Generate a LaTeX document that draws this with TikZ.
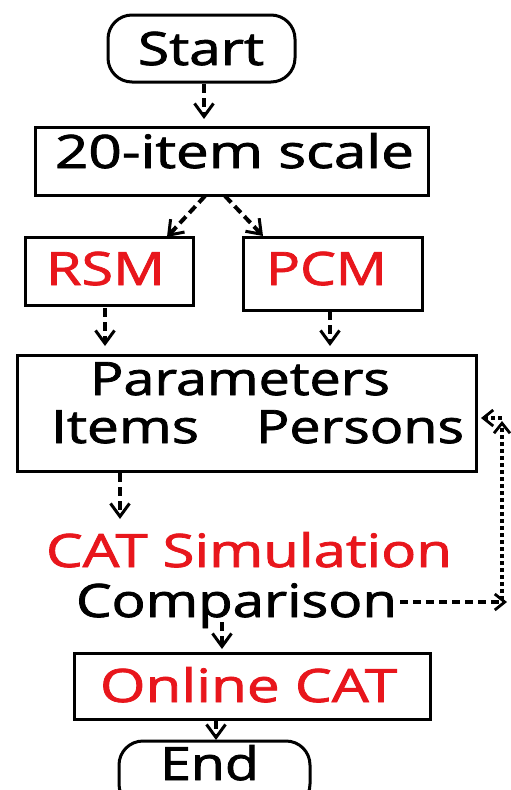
\documentclass[tikz,border=0pt]{standalone}
\usepackage{fontspec}
\setmainfont[FakeBold=1.6,BoldFont={Open Sans}]{Open Sans}
\usetikzlibrary{arrows.meta,calc}
\definecolor{cred}{RGB}{232,22,28}
\newcommand\fitw[2]{\resizebox{#1}{\height}{#2}}
\begin{document}
\begin{tikzpicture}[x=1pt,y=-1pt,
  box/.style={draw,line width=3pt,inner sep=0pt,outer sep=0pt},
  txt/.style={inner sep=0pt,outer sep=0pt,anchor=base west,font=\fontsize{46}{50}\selectfont},
  arr/.style={line width=4pt,dash pattern=on 9pt off 5pt,-{Straight Barb[length=13pt,width=19pt,line width=3pt]}},
  dotarr/.style={line width=4.5pt,dash pattern=on 4pt off 3pt,-{Straight Barb[length=10pt,width=16pt,line width=2.8pt]}},
  dasharr/.style={line width=4.5pt,dash pattern=on 8pt off 5pt,-{Straight Barb[length=10pt,width=16pt,line width=2.8pt]}}
]
\useasboundingbox (0,0) rectangle (511,790);
\fill[white] (0,0) rectangle (511,790);
\clip (0,0) rectangle (511,790);

% boxes
\node[box,rounded corners=24pt,minimum width=187pt,minimum height=67pt] (start) at (201.5,48.5) {};
\node[box,minimum width=393pt,minimum height=68pt] (scale) at (231.5,161) {};
\node[box,minimum width=168pt,minimum height=68pt] (rsm) at (109,271) {};
\node[box,minimum width=179pt,minimum height=73pt] (pcm) at (332.5,273.5) {};
\node[box,minimum width=459pt,minimum height=116pt] (par) at (246.5,413) {};
\node[box,minimum width=356pt,minimum height=66pt] (online) at (252,686) {};
\node[box,rounded corners=24pt,minimum width=191pt,minimum height=67pt] (endn) at (214.5,774.5) {};

% texts
\node[txt] (tstart) at (138,65) {\fitw{126pt}{Start}};
\node[txt] (tscale) at (55,168) {\fitw{359pt}{20-item scale}};
\node[txt,text=cred] (trsm) at (46,285) {\fitw{119pt}{RSM}};
\node[txt,text=cred] (tpcm) at (266,285) {\fitw{121pt}{PCM}};
\node[txt] (tpar) at (90,395) {\fitw{300pt}{Parameters}};
\node[txt] (titems) at (51,443) {\fitw{148pt}{Items}};
\node[txt] (tpersons) at (256,443) {\fitw{208pt}{Persons}};
\node[txt,text=cred] (catsim) at (46,567) {\fitw{406pt}{CAT Simulation}};
\node[txt] (comp) at (76,617) {\fitw{321pt}{Comparison}};
\node[txt,text=cred] (tonline) at (100,702) {\fitw{297pt}{Online CAT}};
\node[txt] (tend) at (160,780) {\fitw{99pt}{End}};

% connectors
\draw[arr] ([xshift=2.5pt,yshift=-2pt]start.south) -- ([xshift=-27.5pt,yshift=8pt]scale.north);
\draw[arr] ([xshift=-26.5pt,yshift=-1pt]scale.south) -- ([xshift=-26pt]rsm.north east);
\draw[arr] ([xshift=-6.5pt,yshift=-1pt]scale.south) -- ([xshift=20pt,yshift=1pt]pcm.north west);
\draw[arr] ([xshift=-4pt,yshift=-3pt]rsm.south) -- ([xshift=88pt,yshift=9pt]par.north west);
\draw[arr] ([xshift=-2.5pt,yshift=-1pt]pcm.south) -- ([xshift=83.5pt,yshift=9pt]par.north);
\draw[arr] ([xshift=103pt,yshift=-2pt]par.south west) -- ([xshift=74pt,yshift=48pt]catsim.base west);
\draw[arr] ([xshift=146pt,yshift=-5pt]comp.base west) -- ([xshift=148pt,yshift=4pt]online.north west);
\draw[arr] ([xshift=-36pt,yshift=-1pt]online.south) -- ([xshift=1.5pt,yshift=1pt]endn.north);

% feedback loop
\coordinate (loopR) at (507,602);
\coordinate (loopB) at (502,600);
\coordinate (loopT) at (502,421);
\coordinate (loopL) at (502,418);
\draw[dasharr] ([xshift=3pt,yshift=15pt]comp.base east) -- (loopR);
\draw[dotarr] (loopB) -- (loopT);
\draw[dotarr] (loopL) -- ([xshift=5pt,yshift=-5pt]par.east);
\end{tikzpicture}
\end{document}
